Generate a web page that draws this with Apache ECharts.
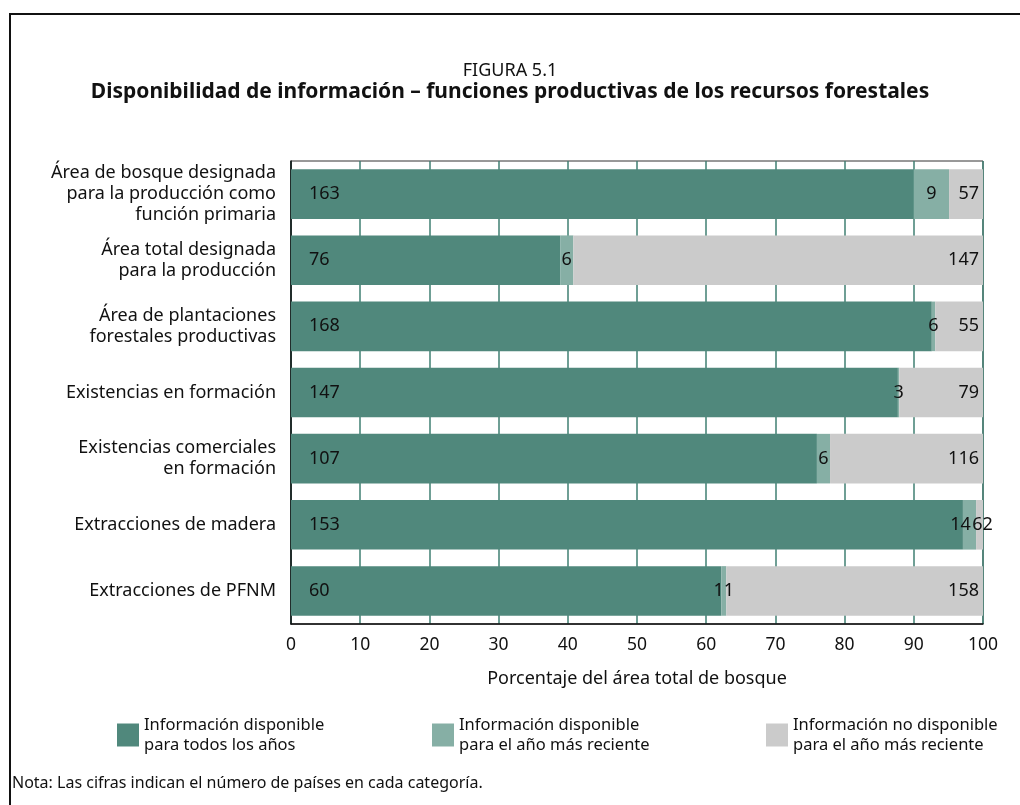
<!DOCTYPE html>
<html>
<head>
<meta charset="utf-8">
<title>Figura 5.1</title>
<script src="https://cdn.jsdelivr.net/npm/echarts@6/dist/echarts.min.js"></script>
<style>
  html, body { margin: 0; padding: 0; background: #fff; }
  #chart { width: 1020px; height: 805px; }
</style>
</head>
<body>
<div id="chart"></div>
<script>
// categorías (de arriba a abajo)
const categories = [
  'Área de bosque designada\npara la producción como\nfunción primaria',
  'Área total designada\npara la producción',
  'Área de plantaciones\nforestales productivas',
  'Existencias en formación',
  'Existencias comerciales\nen formación',
  'Extracciones de madera',
  'Extracciones de PFNM'
]
// porcentaje del área total de bosque
const pctTodos = [90.0, 38.9, 92.6, 87.7, 76.0, 97.1, 62.2]
const pctReciente = [5.1, 1.9, 0.5, 0.2, 1.9, 1.9, 0.7]
const pctNoDisp = [4.9, 59.2, 6.9, 12.1, 22.1, 1.0, 37.1]
// número de países
const paisesTodos = [163, 76, 168, 147, 107, 153, 60]
const paisesReciente = [9, 6, 6, 3, 6, 14, 11]
const paisesNoDisp = [57, 147, 55, 79, 116, 62, 158]
const xTicks = [0, 10, 20, 30, 40, 50, 60, 70, 80, 90, 100]

const names = [
  'Información disponible\npara todos los años',
  'Información disponible\npara el año más reciente',
  'Información no disponible\npara el año más reciente'
]
const colors = ['#50887c', '#86afa5', '#cbcbcb']
const font = 'Noto Sans'

const chart = echarts.init(document.getElementById('chart'))

function makeData(values, labelOverrides) {
  return values.map((v, i) => {
    const item = { value: v }
    if (labelOverrides && labelOverrides[i]) item.label = labelOverrides[i]
    return item
  })
}

const labelBase = { show: true, color: '#111', fontSize: 18, fontFamily: font }

chart.setOption({
  animation: false,
  title: [{
    text: 'FIGURA 5.1',
    left: 'center',
    top: 57,
    textStyle: { fontFamily: font, fontSize: 18, fontWeight: 'normal', color: '#111' }
  }, {
    text: 'Disponibilidad de información – funciones productivas de los recursos forestales',
    left: 'center',
    top: 77,
    textStyle: { fontFamily: font, fontSize: 21, fontWeight: 'bold', color: '#111' }
  }],
  legend: [0, 1, 2].map((k, i) => ({
    data: [names[k]],
    left: [112, 427, 761][i],
    top: 710,
    itemWidth: 22,
    itemHeight: 23,
    icon: 'rect',
    selectedMode: false,
    textStyle: { fontFamily: font, fontSize: 16.5, lineHeight: 20, color: '#111' }
  })),
  grid: {
    left: 291,
    right: 37,
    top: 161,
    bottom: 181,
    show: true,
    borderColor: '#333',
    borderWidth: 1,
    backgroundColor: 'transparent'
  },
  xAxis: {
    type: 'value',
    min: 0,
    max: 100,
    interval: 10,
    name: 'Porcentaje del área total de bosque',
    nameLocation: 'middle',
    nameGap: 46,
    nameTextStyle: { fontFamily: font, fontSize: 18, color: '#111' },
    axisLine: { show: true, lineStyle: { color: '#111', width: 1.5 } },
    axisTick: { show: false },
    axisLabel: {
      fontFamily: font, fontSize: 17.5, color: '#111', margin: 12,
      formatter: v => xTicks.includes(v) ? String(v) : ''
    },
    splitLine: { show: true, lineStyle: { color: '#3f7f72', width: 1.5, type: 'solid' } }
  },
  yAxis: {
    type: 'category',
    data: categories,
    inverse: true,
    axisLine: { show: true, lineStyle: { color: '#111', width: 1.5 } },
    axisTick: { show: false },
    axisLabel: {
      fontFamily: font, fontSize: 18, lineHeight: 21, color: '#111', margin: 15, align: 'right'
    }
  },
  series: [{
    name: names[0],
    type: 'bar',
    stack: 'total',
    barCategoryGap: '25%',
    itemStyle: { color: colors[0] },
    data: makeData(pctTodos),
    label: Object.assign({}, labelBase, {
      position: 'insideLeft', distance: 18,
      formatter: p => paisesTodos[p.dataIndex]
    })
  }, {
    name: names[1],
    type: 'bar',
    stack: 'total',
    itemStyle: { color: colors[1] },
    data: makeData(pctReciente, { 5: { offset: [-9, 0] } }),
    label: Object.assign({}, labelBase, {
      position: 'inside',
      formatter: p => paisesReciente[p.dataIndex]
    })
  }, {
    name: names[2],
    type: 'bar',
    stack: 'total',
    itemStyle: { color: colors[2] },
    data: makeData(pctNoDisp, { 5: { position: 'inside', offset: [3, 0] } }),
    label: Object.assign({}, labelBase, {
      position: 'insideRight', distance: 4,
      formatter: p => paisesNoDisp[p.dataIndex]
    })
  }],
  graphic: [{
    type: 'rect',
    silent: true,
    shape: { x: 10, y: 14, width: 1020, height: 800 },
    style: { fill: 'none', stroke: '#111', lineWidth: 2 }
  }, {
    type: 'text',
    left: 12,
    top: 775,
    style: {
      text: 'Nota: Las cifras indican el número de países en cada categoría.',
      fontFamily: font, fontSize: 16, fill: '#111'
    }
  }]
})
</script>
</body>
</html>
